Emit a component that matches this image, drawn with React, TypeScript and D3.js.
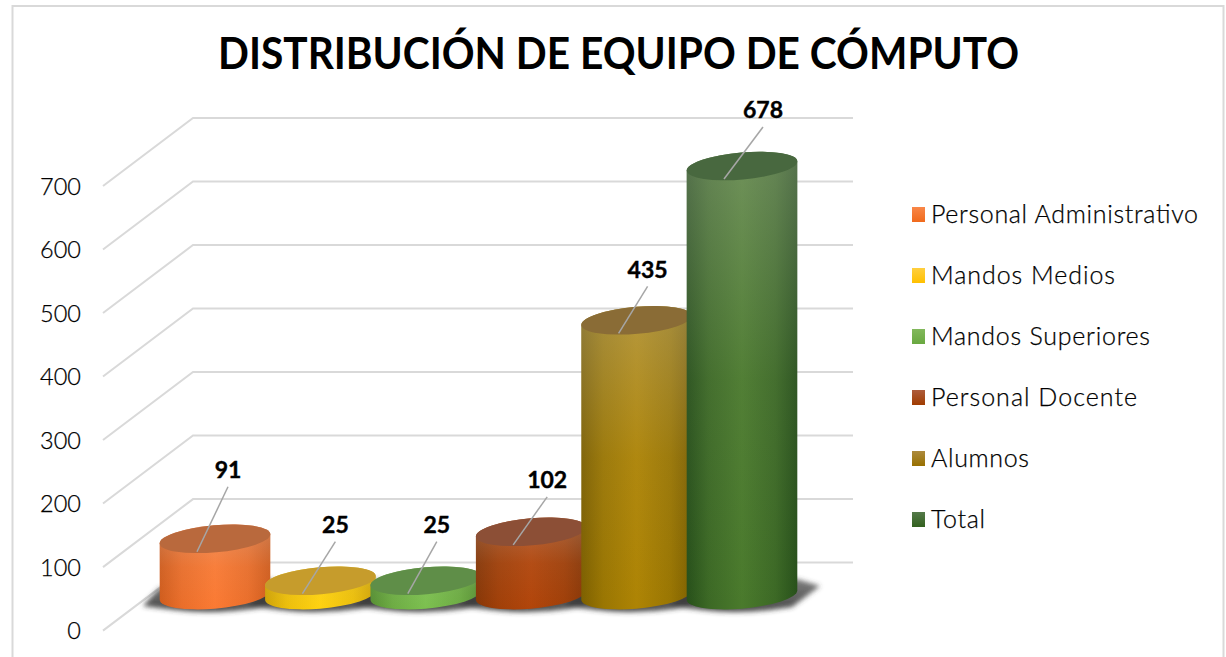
import React from "react";
import * as d3 from "d3";

const titleText = "DISTRIBUCIÓN DE EQUIPO DE CÓMPUTO";
const categories = ["Personal Administrativo", "Mandos Medios", "Mandos Superiores", "Personal Docente", "Alumnos", "Total"];
const values = [91, 25, 25, 102, 435, 678];
const yTicks = [0, 100, 200, 300, 400, 500, 600, 700];

const bodyBright = ["#fb7a33", "#ffd20f", "#7cc04f", "#b2450a", "#ae8404", "#4a7a2c"];
const bodyEdge = ["#d05c1c", "#cfa206", "#568f32", "#863606", "#7d6000", "#27501a"];
const topFill = ["#b9693d", "#c69c2c", "#5f8e48", "#8c4f36", "#8a6c36", "#48683f"];
const swatchTop = ["#f98748", "#ffcf3f", "#82b85c", "#ad5c3c", "#ac8a3d", "#557a4a"];
const swatchBottom = ["#f06a1c", "#ffc000", "#69a840", "#a03c00", "#987000", "#33611f"];
const labelDx = [31, 33, 29, 34, 29, 39];
const labelDy = [-65, -52, -52, -48, -47, -52];
const legendWidths = [267, 184, 219, 206, 98, 54];

const W = 1226, H = 657;
const depthX = 90, depthY = -68;
const y = d3.scaleLinear().domain([0, 700]).range([630.6, 186]);
const x = d3.scalePoint<string>().domain(categories).range([215, 742]);
const backLeft = 193, backRight = 853;
const a = 55.5, b = 13.5, deg = -5;
const th = (Math.abs(deg) * Math.PI) / 180;
const X = Math.sqrt(a * a * Math.cos(th) ** 2 + b * b * Math.sin(th) ** 2);
const Y = ((a * a - b * b) * Math.sin(th) * Math.cos(th)) / X;
const topOff = depthY / 2;
const baseOff = depthY / 2 - 1.5;
const FONT = "Lato, 'Open Sans', sans-serif";

function bodyPath(cx: number, top: number, base: number) {
  return `M${cx - X},${top + Y}L${cx - X},${base + Y}A${a},${b},${deg},0,0,${cx + X},${base - Y}L${cx + X},${top - Y}A${a},${b},${deg},0,0,${cx - X},${top + Y}Z`;
}

export default function App() {
  const base = y(0) + baseOff;
  return (
    <svg width={W} height={H} viewBox={`0 0 ${W} ${H}`} style={{ position: "absolute", left: 0, top: 0, display: "block", background: "#fff" }}>
      <defs>
        <filter id="blur" x="-20%" y="-50%" width="140%" height="200%">
          <feGaussianBlur stdDeviation="2.6" />
        </filter>
        <linearGradient id="sheen" x1="0" y1="0" x2="0" y2="1">
          <stop offset="0" stopColor="#c8c8c8" stopOpacity={0.3} />
          <stop offset="0.5" stopColor="#c8c8c8" stopOpacity={0.06} />
          <stop offset="1" stopColor="#c8c8c8" stopOpacity={0} />
        </linearGradient>
        <linearGradient id="floorShadow" x1="0" y1="0" x2="0" y2="1">
          <stop offset="0" stopColor="#444" stopOpacity={0.7} />
          <stop offset="1" stopColor="#333" stopOpacity={0.9} />
        </linearGradient>
        {categories.map((c, i) => (
          <React.Fragment key={c}>
            <linearGradient id={`body${i}`} x1="0" y1="0" x2="1" y2="0">
              <stop offset="0" stopColor={bodyEdge[i]} />
              <stop offset="0.2" stopColor={d3.interpolateRgb(bodyEdge[i], bodyBright[i])(0.6)} />
              <stop offset="0.5" stopColor={bodyBright[i]} />
              <stop offset="0.8" stopColor={d3.interpolateRgb(bodyEdge[i], bodyBright[i])(0.6)} />
              <stop offset="1" stopColor={bodyEdge[i]} />
            </linearGradient>
            <linearGradient id={`sw${i}`} x1="0" y1="0" x2="0" y2="1">
              <stop offset="0" stopColor={swatchTop[i]} />
              <stop offset="1" stopColor={swatchBottom[i]} />
            </linearGradient>
          </React.Fragment>
        ))}
      </defs>

      <rect x={12.5} y={6} width={1211} height={H + 20} fill="#fff" stroke="#d9d9d9" strokeWidth={2} />

      <text x={618.5} y={69} textAnchor="middle" fontFamily={FONT} fontWeight={700} fontSize={43} textLength={801} lengthAdjust="spacingAndGlyphs" fill="#000">
        {titleText}
      </text>

      <g stroke="#d9d9d9" strokeWidth={2} fill="none">
        {yTicks.map((t) => (
          <path key={t} d={`M${backLeft - depthX},${y(t)}L${backLeft},${y(t) + depthY}L${backRight},${y(t) + depthY}`} />
        ))}
      </g>
      <g fontFamily={FONT} fontSize={23.5} fontWeight={300} fill="#000" stroke="#000" strokeWidth={0.25} textAnchor="end">
        {yTicks.map((t) => (
          <text key={t} x={81} y={y(t) + 8.5}>{t}</text>
        ))}
      </g>

      <g filter="url(#blur)">
        {categories.map((c) => {
          const cx = x(c)!;
          return (
            <path key={c} fill="url(#floorShadow)"
              d={`M${cx - 72},${base + 11}L${cx - 56},${base - 7}L${cx + 55},${base - 16}L${cx + 78},${base - 9}L${cx + 50},${base + 12}Q${cx},${base + 20},${cx - 40},${base + 15}Z`} />
          );
        })}
      </g>

      {categories.map((c, i) => {
        const cx = x(c)!;
        const top = y(values[i]) + topOff;
        return (
          <g key={c}>
            <path d={bodyPath(cx, top, base)} fill={`url(#body${i})`} />
            <path d={bodyPath(cx, top, base)} fill="url(#sheen)" />
            <ellipse cx={cx} cy={top} rx={a} ry={b} transform={`rotate(${deg} ${cx} ${top})`} fill={topFill[i]} />
          </g>
        );
      })}

      {categories.map((c, i) => {
        const sx = x(c)! - 18;
        const sy = y(values[i]) + topOff + 13;
        const ex = sx + labelDx[i];
        const ey = sy + labelDy[i];
        return (
          <g key={c}>
            <line x1={sx} y1={sy} x2={ex} y2={ey} stroke="#a6a6a6" strokeWidth={1.5} />
            <text x={ex} y={ey - 8.5} textAnchor="middle" fontFamily={FONT} fontWeight={700} fontSize={23} stroke="#000" strokeWidth={0.4} fill="#000">{values[i]}</text>
          </g>
        );
      })}

      {categories.map((c, i) => {
        const ly = 215 + i * 61;
        return (
          <g key={c}>
            <rect x={912} y={ly - 8} width={13} height={15} fill={`url(#sw${i})`} />
            <text x={931} y={ly + 8} fontFamily={FONT} fontSize={25} fontWeight={300} stroke="#000" strokeWidth={0.25} textLength={legendWidths[i]} lengthAdjust="spacing" fill="#000">{c}</text>
          </g>
        );
      })}
    </svg>
  );
}
